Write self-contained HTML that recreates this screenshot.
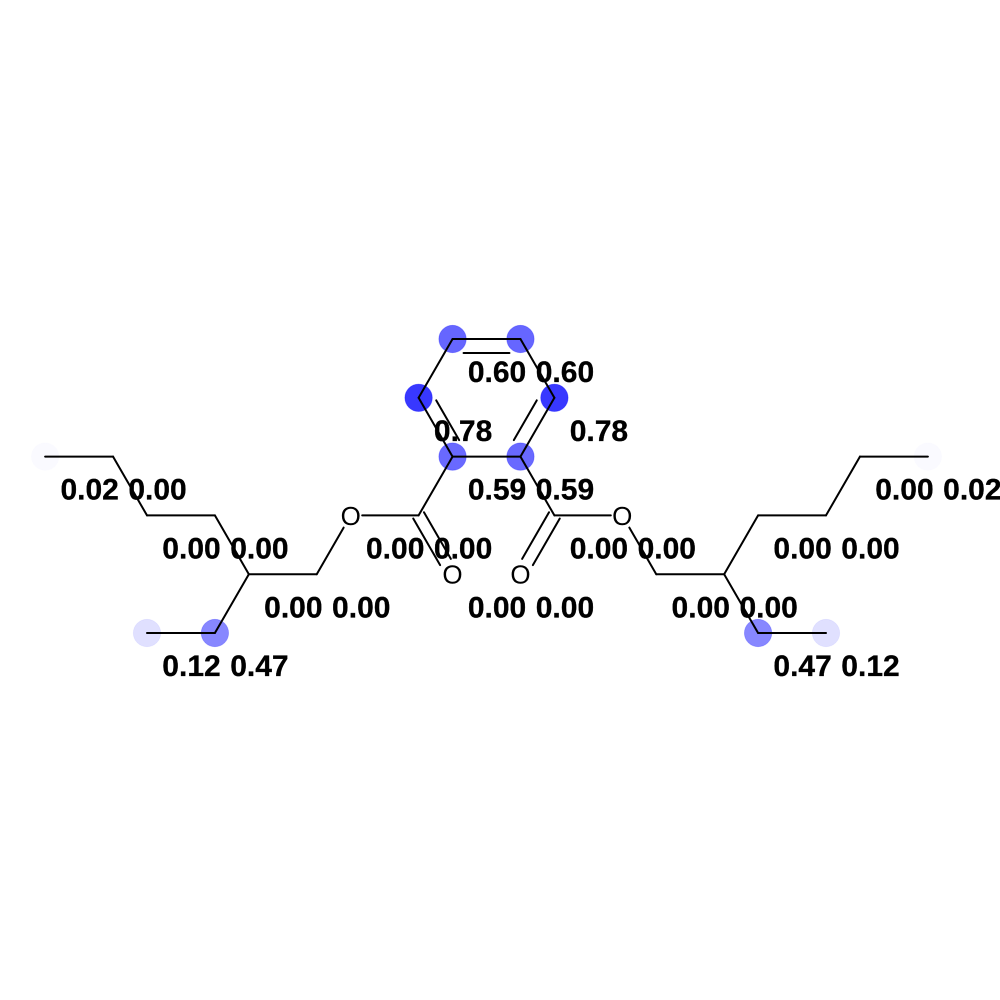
<!DOCTYPE html>
<html lang="en">
<head>
<meta charset="utf-8">
<title>Molecule atom weights</title>
<style>
html,body{margin:0;padding:0;background:#fff;width:1000px;height:1000px;overflow:hidden}
svg{display:block}
</style>
</head>
<body>
<svg id="chart" xmlns="http://www.w3.org/2000/svg" width="1000" height="1000" viewBox="0 0 1000 1000">
<rect x="0" y="0" width="1000" height="1000" fill="#ffffff"></rect>
<g id="highlights"></g>
<g id="bonds"></g>
<g id="hetero"></g>
<g id="labels"></g>
</svg>
<script>
// Structural layout in lattice units (half-bond columns, rows), not pixels
const atomCols = [-13,-11,-10,-8,-7,-8,-10,-5,-4,-2,-1,-1,-2,-1,1,2,1,2,1,4,5,7,8,10,8,10,11,13];
const atomRows = [2,2,3,3,4,5,5,4,3,3,4,2,1,0,0,1,2,3,4,3,4,4,5,5,3,3,2,2];
const atomSymbols = ["","","","","","","","","O","","O","","","","","","","","O","O","","","","","","","",""];
const atomValues = [0.02,0.00,0.00,0.00,0.00,0.47,0.12,0.00,0.00,0.00,0.00,0.59,0.78,0.60,0.60,0.78,0.59,0.00,0.00,0.00,0.00,0.00,0.47,0.12,0.00,0.00,0.00,0.02];
const bondFrom = [0,1,2,3,4,5,4,7,8,9,9,11,12,13,14,15,16,16,17,17,19,20,21,22,21,24,25,26];
const bondTo = [1,2,3,4,5,6,7,8,9,10,11,12,13,14,15,16,11,17,18,19,20,21,22,23,24,25,26,27];
const bondOrders = [1,1,1,1,1,1,1,1,1,2,1,2,1,2,1,2,1,1,2,1,1,1,1,1,1,1,1,1];

const NS = "http://www.w3.org/2000/svg";
function xScale(c){ return 486.5 + c * 33.95; }
function yScale(r){ return 339 + r * 58.8; }
function px(i){ return xScale(atomCols[i]); }
function py(i){ return yScale(atomRows[i]); }

const highlights = document.getElementById("highlights");
const bonds = document.getElementById("bonds");
const hetero = document.getElementById("hetero");
const labels = document.getElementById("labels");

function drawLine(x1, y1, x2, y2, name){
  const l = document.createElementNS(NS, "line");
  l.setAttribute("x1", x1);
  l.setAttribute("y1", y1);
  l.setAttribute("x2", x2);
  l.setAttribute("y2", y2);
  l.setAttribute("stroke", "#000");
  l.setAttribute("stroke-width", "2");
  l.setAttribute("stroke-linecap", "round");
  
  
  bonds.appendChild(l);
}

// Distance to pull a bond back from a labelled atom
function trimFor(i, ux, uy){
  if (!atomSymbols[i]) return 0;
  return 11.5 + 3 * Math.abs(uy);
}

const ringCx = xScale(0);
const ringCy = yScale(1);

bondFrom.forEach(function(a, k){
  const b = bondTo[k];
  const ax = px(a), ay = py(a), bx = px(b), by = py(b);
  const len = Math.hypot(bx - ax, by - ay);
  const ux = (bx - ax) / len, uy = (by - ay) / len;
  const ta = trimFor(a, ux, uy), tb = trimFor(b, ux, uy);
  const sx = ax + ux * ta, sy = ay + uy * ta, ex = bx - ux * tb, ey = by - uy * tb;
  if (bondOrders[k] === 1) {
    drawLine(sx, sy, ex, ey, "bond-" + a + "-" + b);
    return;
  }
  const nx = -uy, ny = ux;
  if (atomSymbols[b]) {
    // Carbonyl: two lines centred on the bond axis
    drawLine(sx + nx * 6.2, sy + ny * 6.2, ex + nx * 6.2, ey + ny * 6.2, "bond-" + a + "-" + b + "-line-a");
    drawLine(sx - nx * 6.2, sy - ny * 6.2, ex - nx * 6.2, ey - ny * 6.2, "bond-" + a + "-" + b + "-line-b");
  } else {
    // Aromatic: full line plus a shortened inner line towards the ring centre
    const mx = (ax + bx) / 2, my = (ay + by) / 2;
    const side = ((ringCx - mx) * nx + (ringCy - my) * ny) > 0 ? 1 : -1;
    drawLine(ax, ay, bx, by, "bond-" + a + "-" + b + "-outer");
    drawLine(ax + nx * side * 14 + ux * 11, ay + ny * side * 14 + uy * 11,
             bx + nx * side * 14 - ux * 11, by + ny * side * 14 - uy * 11,
             "bond-" + a + "-" + b + "-inner");
  }
});

atomValues.forEach(function(v, i){
  const x = px(i), y = py(i);
  if (v > 0) {
    const c = document.createElementNS(NS, "circle");
    c.setAttribute("cx", x);
    c.setAttribute("cy", y);
    c.setAttribute("r", 13.7);
    c.setAttribute("fill", "rgb(0,0,255)");
    c.setAttribute("fill-opacity", v);
    c.setAttribute("stroke", "rgb(0,0,255)");
    c.setAttribute("stroke-opacity", v * 0.5);
    c.setAttribute("stroke-width", "0.8");
    
    
    highlights.appendChild(c);
  }
  if (atomSymbols[i]) {
    const s = document.createElementNS(NS, "text");
    s.setAttribute("x", x);
    s.setAttribute("y", y + 9.4);
    s.setAttribute("text-anchor", "middle");
    s.setAttribute("font-family", '"Liberation Sans", sans-serif');
    s.setAttribute("font-size", "26");
    s.setAttribute("fill", "#000");
    s.textContent = atomSymbols[i];
    
    
    hetero.appendChild(s);
  }
  const t = document.createElementNS(NS, "text");
  t.setAttribute("x", x + 15.3);
  t.setAttribute("y", y + 43.1);
  t.setAttribute("font-family", '"Liberation Sans", sans-serif');
  t.setAttribute("font-weight", "700");
  t.setAttribute("font-size", "30");
  t.setAttribute("fill", "#000");
  t.setAttribute("stroke", "#000");
  t.setAttribute("stroke-width", "0.3");
  t.textContent = v.toFixed(2);
  
  
  labels.appendChild(t);
});
</script>
</body>
</html>
